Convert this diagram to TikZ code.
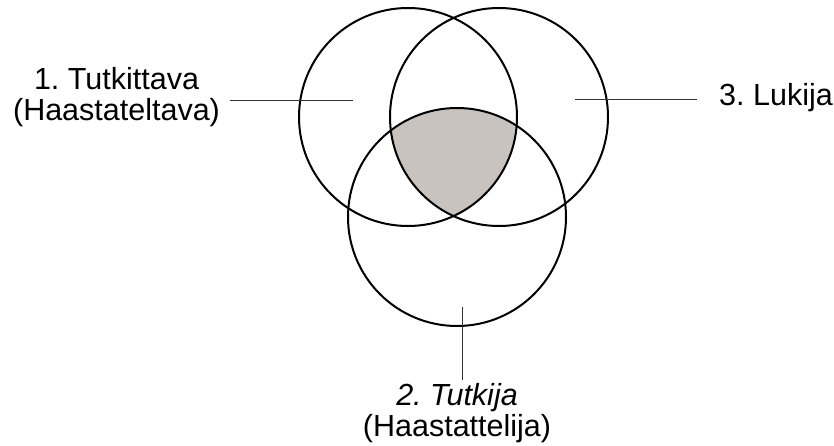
\documentclass[tikz,border=0pt]{standalone}
\usepackage{fontspec}
\setmainfont{Liberation Sans}
\usetikzlibrary{positioning}
\frenchspacing

\definecolor{shared}{RGB}{201,195,191}

\begin{document}
\begin{tikzpicture}[
    x=1pt, y=-1pt,
    ring/.style={circle, draw, line width=2pt, minimum size=218pt, inner sep=0pt},
    role/.style={font=\fontsize{30.5}{31}\selectfont, align=center, inner sep=0pt},
    leader/.style={line width=0.9pt, draw=black!80}
  ]
    \useasboundingbox (0,0) rectangle (834,446);
    \coordinate (c1) at (408,117);
    \coordinate (c3) at (499,117);
    \coordinate (c2) at (457,217);
    % common part of all three
    \begin{scope}
      \clip (c1) circle (109pt);
      \clip (c3) circle (109pt);
      \fill[shared] (c2) circle (109pt);
    \end{scope}
    \node[ring] (tutkittava) at (c1) {};
    \node[ring] (lukija) at (c3) {};
    \node[ring] (tutkija) at (c2) {};
    \node[role] (label1) at (116.5,97.4) {1. Tutkittava\\(Haastateltava)};
    \node[role] (label3) at (776,98) {3. Lukija};
    \node[role] (label2) at (457,413.5) {\itshape 2. Tutkija\\(Haastattelija)};
    \coordinate (end1) at (353,100);
    \coordinate (end3) at (575,99);
    \coordinate (end2) at (462,307);
    \draw[leader, shorten <=10pt] (label1.east |- end1) -- (end1);
    \draw[leader, shorten <=22pt] (label3.west |- end3) -- (end3);
    \draw[leader, shorten <=4pt] (label2.north -| end2) -- (end2);
  \end{tikzpicture}
\end{document}
